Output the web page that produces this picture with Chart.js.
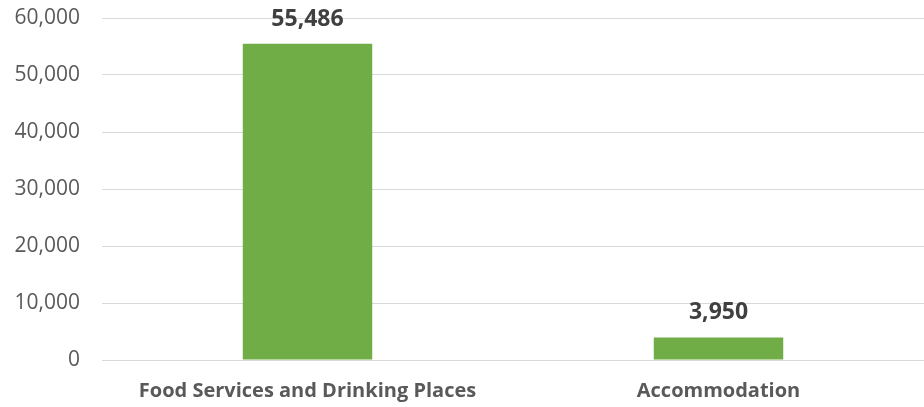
<!DOCTYPE html>
<html>
<head>
<meta charset="utf-8">
<script src="https://cdn.jsdelivr.net/npm/chart.js@4.4.1/dist/chart.umd.min.js"></script>
<style>
  html, body { margin: 0; padding: 0; background: #ffffff; }
  #wrap { width: 924px; height: 407px; position: relative; }
</style>
</head>
<body>
<div id="wrap"><canvas id="c" width="924" height="407"></canvas></div>
<script>
const categories = ["Food Services and Drinking Places", "Accommodation"];
const values = [55486, 3950];
const yTicks = [0, 10000, 20000, 30000, 40000, 50000, 60000];

const FONT = "'Open Sans', sans-serif";
const fmt = v => v.toLocaleString('en-US');

const dataLabels = {
  id: 'dataLabels',
  afterDatasetsDraw(chart) {
    const ctx = chart.ctx;
    const meta = chart.getDatasetMeta(0);
    ctx.save();
    ctx.font = "bold 23px " + FONT;
    ctx.fillStyle = '#404040';
    ctx.textAlign = 'center';
    ctx.textBaseline = 'alphabetic';
    meta.data.forEach((bar, i) => {
      ctx.fillText(fmt(values[i]), bar.x, bar.y - 18);
    });
    ctx.restore();
  }
};

new Chart(document.getElementById('c'), {
  type: 'bar',
  data: {
    labels: categories,
    datasets: [{
      data: values,
      backgroundColor: '#70AD47',
      borderWidth: 0,
      categoryPercentage: 1.0,
      barPercentage: 0.315
    }]
  },
  options: {
    responsive: false,
    animation: false,
    devicePixelRatio: 1,
    layout: { padding: { top: 18, right: -3, left: 0, bottom: 0 } },
    plugins: { legend: { display: false }, tooltip: { enabled: false } },
    scales: {
      x: {
        grid: { display: false },
        border: { display: false },
        ticks: {
          color: '#595959',
          font: { family: FONT, size: 20, weight: 'bold' },
          padding: 11,
          maxRotation: 0,
          autoSkip: false
        },
        afterFit(scale) {
          scale.height = 47;
          scale.paddingLeft = 0; scale.paddingRight = 0;
        }
      },
      y: {
        min: 0,
        max: 60000,
        afterBuildTicks(scale) { scale.ticks = yTicks.map(v => ({ value: v })); },
        grid: { color: '#D9D9D9', lineWidth: 1, drawTicks: false },
        border: { display: false },
        ticks: {
          color: '#595959',
          font: { family: FONT, size: 21 },
          padding: 22,
          callback: v => fmt(v)
        },
        afterFit(scale) {
          scale.width = 102;
          scale.paddingTop = 0; scale.paddingBottom = 0;
        }
      }
    }
  },
  plugins: [dataLabels]
});
</script>
</body>
</html>
